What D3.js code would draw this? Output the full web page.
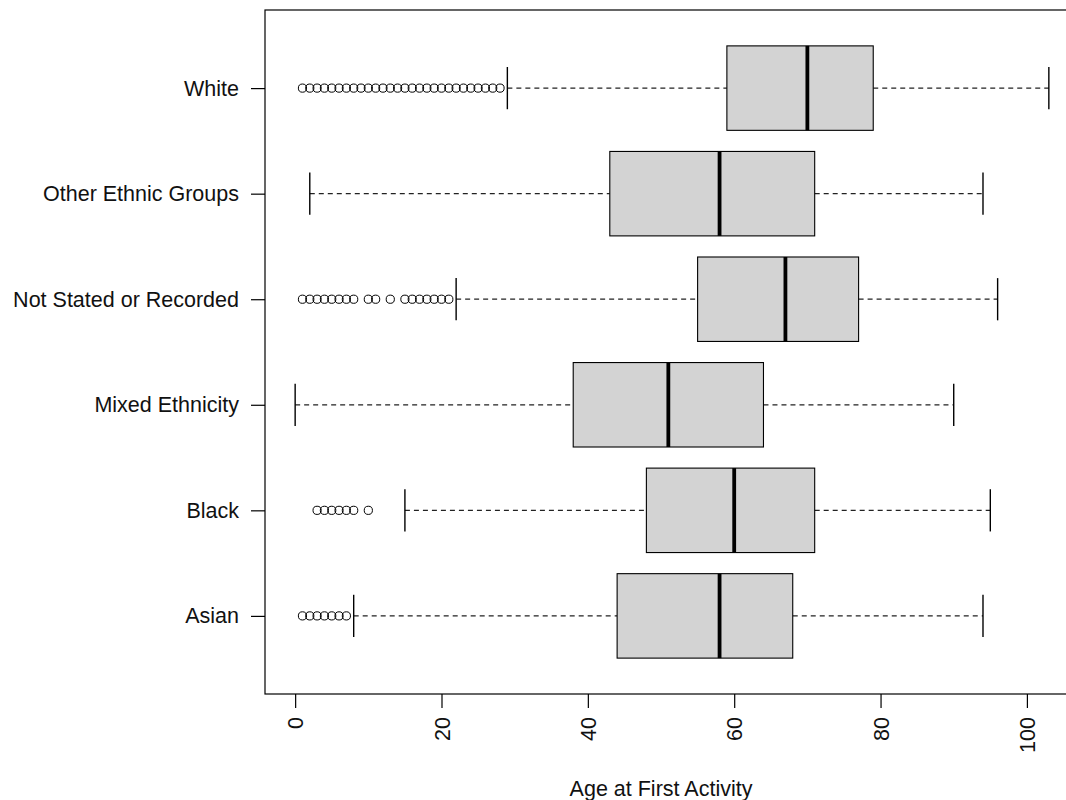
<!DOCTYPE html>
<html>
<head>
<meta charset="utf-8">
<script src="https://cdn.jsdelivr.net/npm/d3@7"></script>
<style>
  body { margin: 0; background: #fff; }
  svg { display: block; }
</style>
</head>
<body>
<div id="chart"></div>
<script>
// groups, bottom to top as R draws them
const categories = ['Asian', 'Black', 'Mixed Ethnicity', 'Not Stated or Recorded', 'Other Ethnic Groups', 'White']
const whiskerLow = [8, 15, 0, 22, 2, 29]
const q1 = [44, 48, 38, 55, 43, 59]
const median = [58, 60, 51, 67, 58, 70]
const q3 = [68, 71, 64, 77, 71, 79]
const whiskerHigh = [94, 95, 90, 96, 94, 103]
const outliers = [
  [1, 2, 3, 4, 5, 6, 7],
  [3, 4, 5, 6, 7, 8, 10],
  [],
  [1, 2, 3, 4, 5, 6, 7, 8, 10, 11, 13, 15, 16, 17, 18, 19, 20, 21],
  [],
  [1, 2, 3, 4, 5, 6, 7, 8, 9, 10, 11, 12, 13, 14, 15, 16, 17, 18, 19, 20, 21, 22, 23, 24, 25, 26, 27, 28]
]
const xTicks = [0, 20, 40, 60, 80, 100]
const xTitle = 'Age at First Activity'

const W = 1066, H = 800
const svg = d3.select('#chart').append('svg').attr('width', W).attr('height', H)

// R pads the range by 4% each side; the right edge falls outside the picture
const x = d3.scaleLinear().domain([-4.12, 107.12]).range([265, 1079])
const y = d3.scaleLinear().domain([0.26, 6.74]).range([694, 10])
const boxH = y(0) - y(0.8)
const font = 'Liberation Sans, Arial, sans-serif'
const fs = 21.5

// plot frame
svg.append('rect')
  .attr('x', x(-4.12)).attr('y', y(6.74))
  .attr('width', x(107.12) - x(-4.12)).attr('height', y(0.26) - y(6.74))
  .attr('fill', 'none').attr('stroke', '#000').attr('stroke-width', 1.2)

categories.forEach((cat, i) => {
  const cy = y(i + 1)
  const g = svg.append('g')

  // dashed whiskers
  g.append('line').attr('x1', x(whiskerLow[i])).attr('x2', x(q1[i])).attr('y1', cy).attr('y2', cy)
    .attr('stroke', '#222').attr('stroke-width', 1.2).attr('stroke-dasharray', '5,4')
  g.append('line').attr('x1', x(q3[i])).attr('x2', x(whiskerHigh[i])).attr('y1', cy).attr('y2', cy)
    .attr('stroke', '#222').attr('stroke-width', 1.2).attr('stroke-dasharray', '5,4')

  // staples
  ;[whiskerLow[i], whiskerHigh[i]].forEach(v => {
    g.append('line').attr('x1', x(v)).attr('x2', x(v))
      .attr('y1', cy - boxH / 4).attr('y2', cy + boxH / 4)
      .attr('stroke', '#000').attr('stroke-width', 1.4)
  })

  g.append('rect')
    .attr('x', x(q1[i])).attr('y', cy - boxH / 2)
    .attr('width', x(q3[i]) - x(q1[i])).attr('height', boxH)
    .attr('fill', '#d3d3d3').attr('stroke', '#000').attr('stroke-width', 1.1)

  g.append('line').attr('x1', x(median[i])).attr('x2', x(median[i]))
    .attr('y1', cy - boxH / 2).attr('y2', cy + boxH / 2)
    .attr('stroke', '#000').attr('stroke-width', 3.8)

  g.selectAll('circle.out').data(outliers[i]).enter().append('circle')
    .attr('cx', d => x(d)).attr('cy', cy).attr('r', 4.1)
    .attr('fill', 'none').attr('stroke', '#000').attr('stroke-width', 1)
})

// left axis
const yAxis = d3.axisLeft(y).tickValues(d3.range(1, categories.length + 1))
  .tickFormat(d => categories[d - 1]).tickSize(14).tickPadding(12)
const ya = svg.append('g').attr('transform', `translate(${x(-4.12)},0)`).call(yAxis)
ya.select('.domain').remove()
ya.selectAll('line').attr('stroke', '#000').attr('stroke-width', 1.2)
ya.selectAll('text').attr('font-family', font).attr('font-size', fs).attr('fill', '#111')

// bottom axis, labels rotated
const xAxis = d3.axisBottom(x).tickValues(xTicks).tickSize(14).tickPadding(0)
const xa = svg.append('g').attr('transform', `translate(0,${y(0.26)})`).call(xAxis)
xa.select('.domain').remove()
xa.selectAll('line').attr('stroke', '#000').attr('stroke-width', 1.2)
xa.selectAll('text')
  .attr('font-family', font).attr('font-size', fs).attr('fill', '#111')
  .attr('transform', 'translate(0,23) rotate(-90)')
  .attr('text-anchor', 'end').attr('dy', '0.35em').attr('y', 0).attr('x', 0)

svg.append('text')
  .attr('x', x(50)).attr('y', 796)
  .attr('text-anchor', 'middle')
  .attr('font-family', font).attr('font-size', fs).attr('fill', '#111')
  .text(xTitle)
</script>
</body>
</html>
